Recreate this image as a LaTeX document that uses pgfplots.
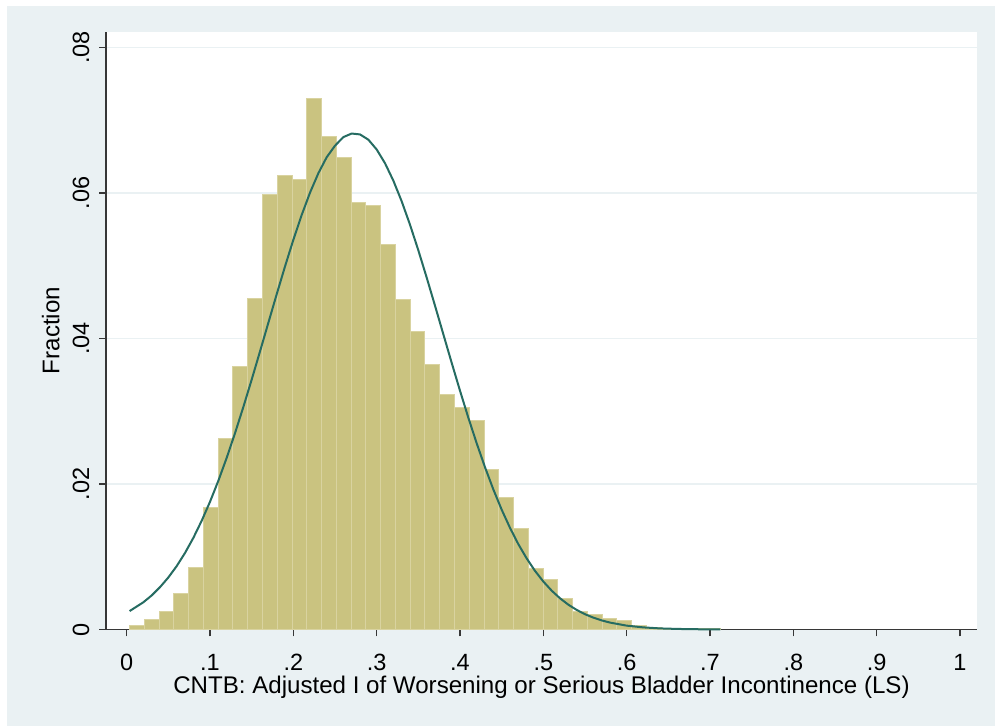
\documentclass[border=0pt]{standalone}
\usepackage{fontspec}
\setmainfont{Liberation Sans}
\usepackage{pgfplots}
\pgfplotsset{compat=1.18}
\definecolor{bg}{RGB}{234,241,243}
\definecolor{barfill}{RGB}{202,195,128}
\definecolor{barline}{RGB}{217,211,160}
\definecolor{curvec}{RGB}{38,108,98}
\definecolor{axisc}{RGB}{55,55,55}
\definecolor{gridc}{RGB}{234,241,243}
\begin{document}
\begin{tikzpicture}[x=1bp,y=1bp]
\useasboundingbox (-106,-96.5) rectangle (889,629.5);
\fill[white] (-106,-96.5) rectangle (889,629.5);
\fill[bg] (-99,-96.5) rectangle (889,623.5);
\begin{axis}[
  at={(0,0)}, anchor=south west,
  scale only axis, width=871bp, height=597.8bp,
  xmin=-0.0248, xmax=1.0204, ymin=0, ymax=0.08217,
  scaled x ticks=false, scaled y ticks=false,
  axis x line*=bottom, axis y line*=left,
  axis line style={axisc, line width=1.2bp},
  axis background/.style={fill=white},
  tick align=outside, major tick length=7bp,
  tick style={axisc, line width=1.1bp},
  xtick={0,0.1,0.2,0.3,0.4,0.5,0.6,0.7,0.8,0.9,1},
  xticklabels={0,.1,.2,.3,.4,.5,.6,.7,.8,.9,1},
  ytick={0,0.02,0.04,0.06,0.08},
  yticklabels={0,.02,.04,.06,.08},
  ymajorgrids, grid style={gridc, line width=1.5bp},
  ticklabel style={font=\fontsize{23.5bp}{28bp}\selectfont},
  xticklabel style={anchor=base, inner sep=0pt, yshift=-33.8bp},
  yticklabel style={rotate=90, anchor=base, inner sep=0pt},
  yticklabel shift=10bp,
  xlabel={CNTB: Adjusted I of Worsening or Serious Bladder Incontinence (LS)},
  ylabel={Fraction},
  label style={font=\fontsize{24.1bp}{28bp}\selectfont},
  xlabel style={at={(axis description cs:0.5,0)}, anchor=base, inner sep=0pt, yshift=-63.8bp},
  ylabel style={at={(axis description cs:-0.0534,0.5)}, rotate=0, anchor=base, inner sep=0pt},
  clip=false,
]
\addplot[ybar, bar width=0.017725, bar shift=0pt, fill=barfill, draw=barline, line width=1bp] coordinates {
(0.0124,0.0006) (0.0301,0.0014) (0.0478,0.0025) (0.0655,0.0049) (0.0833,0.0085)
(0.1010,0.0168) (0.1187,0.0263) (0.1364,0.0361) (0.1541,0.0455) (0.1719,0.0598)
(0.1896,0.0624) (0.2073,0.0619) (0.2250,0.0730) (0.2428,0.0677) (0.2605,0.0649)
(0.2782,0.0587) (0.2959,0.0583) (0.3137,0.0529) (0.3314,0.0453) (0.3491,0.0410)
(0.3668,0.0364) (0.3846,0.0323) (0.4023,0.0305) (0.4200,0.0287) (0.4377,0.0220)
(0.4554,0.0181) (0.4732,0.0139) (0.4909,0.0084) (0.5086,0.0069) (0.5263,0.0043)
(0.5441,0.0025) (0.5618,0.0021) (0.5795,0.0015) (0.5972,0.0012) (0.6150,0.0005)
(0.6327,0.0003) (0.6504,0.0001) (0.6681,0.0001) (0.6859,0.0002) (0.7036,0.0002)
};
\addplot[curvec, line width=2bp, line join=round] coordinates {
(0.0035,0.00253) (0.02,0.00374) (0.03,0.00468) (0.04,0.00582) (0.05,0.00715)
(0.06,0.00871) (0.07,0.01052) (0.08,0.01259) (0.09,0.01494)
(0.10,0.01755) (0.11,0.02044) (0.12,0.02359) (0.13,0.02698) (0.14,0.03058)
(0.15,0.03434) (0.16,0.03822) (0.17,0.04215) (0.18,0.04607) (0.19,0.04990)
(0.20,0.05356) (0.21,0.05697) (0.22,0.06004) (0.23,0.06271) (0.24,0.06491)
(0.25,0.06650) (0.26,0.06768) (0.27,0.06817) (0.28,0.06805) (0.29,0.06733)
(0.30,0.06598) (0.31,0.06409) (0.32,0.06170) (0.33,0.05886) (0.34,0.05564)
(0.35,0.05212) (0.36,0.04838) (0.37,0.04451) (0.38,0.04058) (0.39,0.03666)
(0.40,0.03282) (0.41,0.02911) (0.42,0.02560) (0.43,0.02230) (0.44,0.01925)
(0.45,0.01647) (0.46,0.01397) (0.47,0.01173) (0.48,0.00977) (0.49,0.00806)
(0.50,0.00659) (0.51,0.00534) (0.52,0.00429) (0.53,0.00341) (0.54,0.00269)
(0.55,0.00210) (0.56,0.00163) (0.57,0.00125)
(0.58,0.00095) (0.60,0.00053) (0.62,0.00029) (0.64,0.00015) (0.66,0.00008)
(0.68,0.00004) (0.70,0.00002) (0.7125,0.00001)
};
\end{axis}
\end{tikzpicture}
\end{document}
